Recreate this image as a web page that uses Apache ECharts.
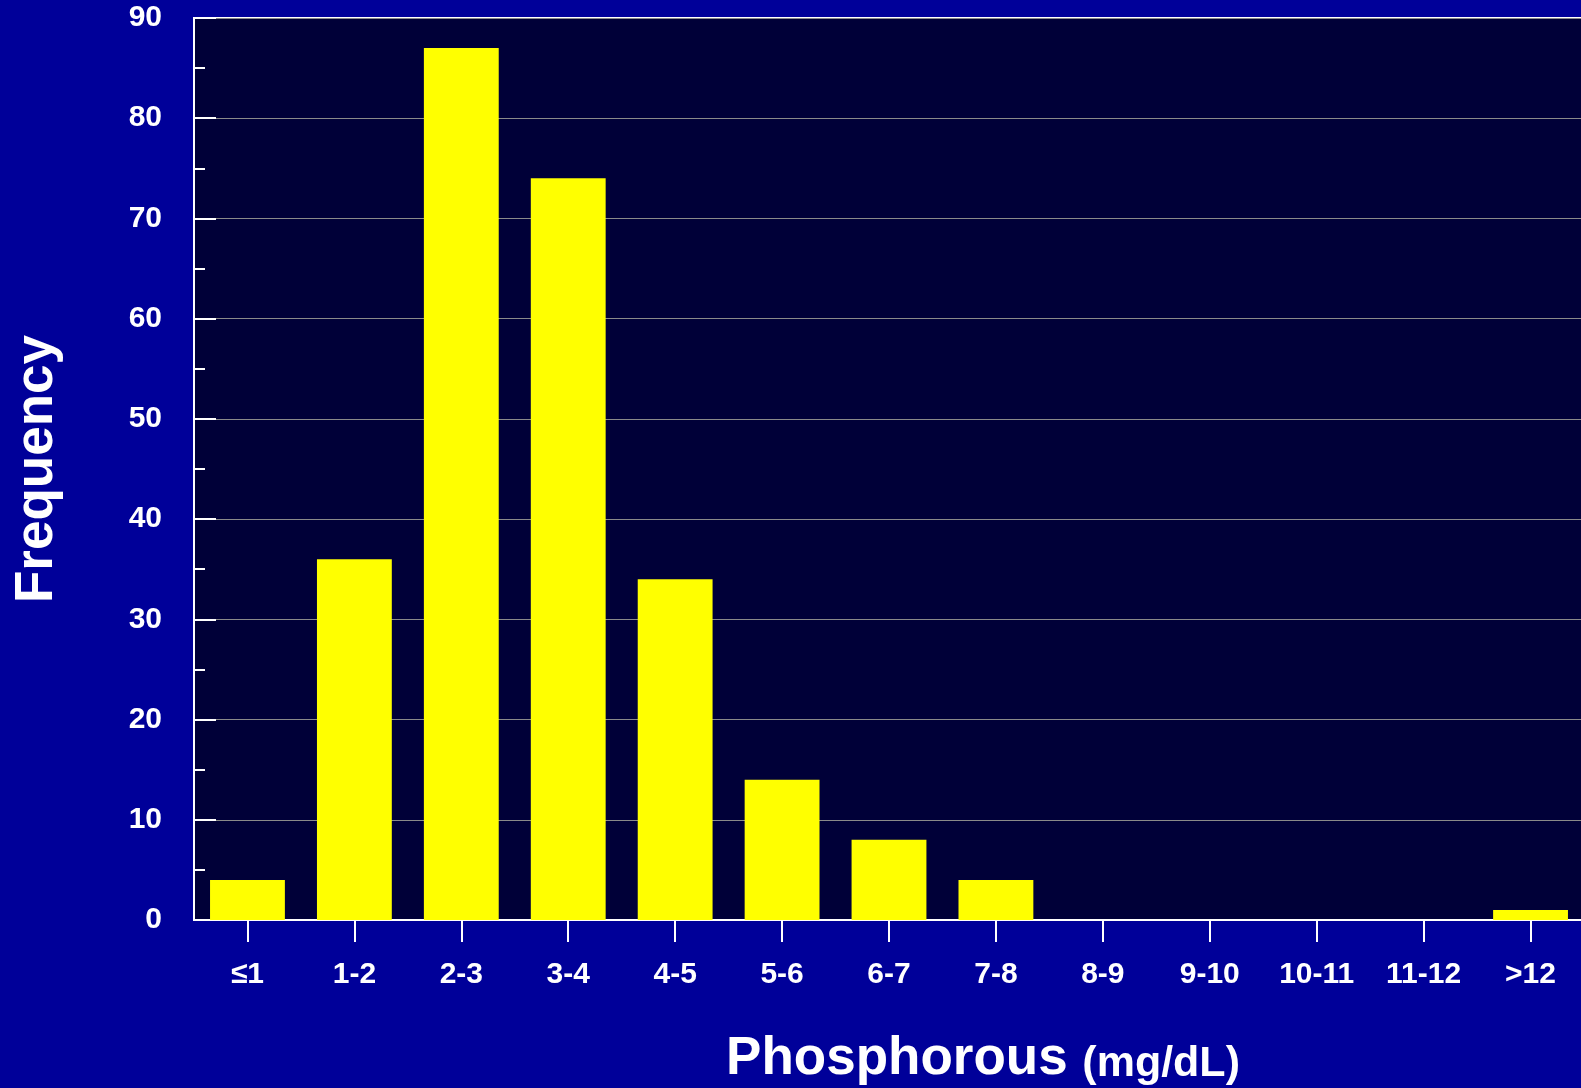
<!DOCTYPE html>
<html>
<head>
<meta charset="utf-8">
<script src="https://cdn.jsdelivr.net/npm/echarts@6/dist/echarts.min.js"></script>
<style>
  html, body { margin: 0; padding: 0; background: #000099; }
  #chart { width: 1581px; height: 1088px; }
</style>
</head>
<body>
<div id="chart"></div>
<script>
// phosphorous bins and their counts
const categories = ["≤1", "1-2", "2-3", "3-4", "4-5", "5-6", "6-7", "7-8", "8-9", "9-10", "10-11", "11-12", ">12"];
const frequency = [4, 36, 87, 74, 34, 14, 8, 4, 0, 0, 0, 0, 1];
const yTicks = [0, 10, 20, 30, 40, 50, 60, 70, 80, 90];

const font = "Liberation Sans, Arial, sans-serif";

let myChart = echarts.init(document.getElementById("chart"));
let option = {
  backgroundColor: "#000099",
  animation: false,
  grid: {
    left: 194,
    top: 18,
    right: -3,
    bottom: 168,
    outerBoundsMode: "none",
    containLabel: false,
    show: true,
    backgroundColor: "#000038",
    borderColor: "#ffffff",
    borderWidth: 2,
  },
  xAxis: {
    type: "category",
    data: categories,
    name: "{a|Phosphorous }{b|(mg/dL)}",
    nameLocation: "middle",
    nameGap: 106,
    nameTextStyle: {
      padding: [0, 0, 0, 188],
      rich: {
        a: { fontSize: 53, fontWeight: "bold", color: "#fff", fontFamily: font, verticalAlign: "bottom", lineHeight: 60 },
        b: { fontSize: 43, fontWeight: "bold", color: "#fff", fontFamily: font, verticalAlign: "bottom", lineHeight: 54 },
      },
    },
    axisLine: { show: true, lineStyle: { color: "#fff", width: 2 } },
    axisTick: { show: true, alignWithLabel: true, inside: false, length: 22, lineStyle: { color: "#fff", width: 2 } },
    axisLabel: {
      color: "#fff",
      fontSize: 30,
      fontWeight: "bold",
      fontFamily: font,
      margin: 40,
      interval: 0,
    },
  },
  yAxis: {
    type: "value",
    min: yTicks[0],
    max: yTicks[yTicks.length - 1],
    interval: 10,
    name: "Frequency",
    nameLocation: "middle",
    nameRotate: 90,
    nameGap: 130,
    nameTextStyle: { color: "#fff", fontSize: 53, fontWeight: "bold", fontFamily: font },
    axisLine: { show: true, lineStyle: { color: "#fff", width: 2 } },
    axisTick: { show: true, inside: true, length: 22, lineStyle: { color: "#fff", width: 2 } },
    minorTick: { show: true, splitNumber: 2, length: 11, lineStyle: { color: "#fff", width: 2 } },
    splitLine: { show: true, lineStyle: { color: "#8a8a8a", width: 1 } },
    axisLabel: {
      color: "#fff",
      fontSize: 30,
      fontWeight: "bold",
      fontFamily: font,
      margin: 32,
    },
  },
  series: [
    {
      type: "bar",
      data: frequency,
      barCategoryGap: "30%",
      itemStyle: { color: "#ffff00" },
    },
  ],
};
myChart.setOption(option);
</script>
</body>
</html>
